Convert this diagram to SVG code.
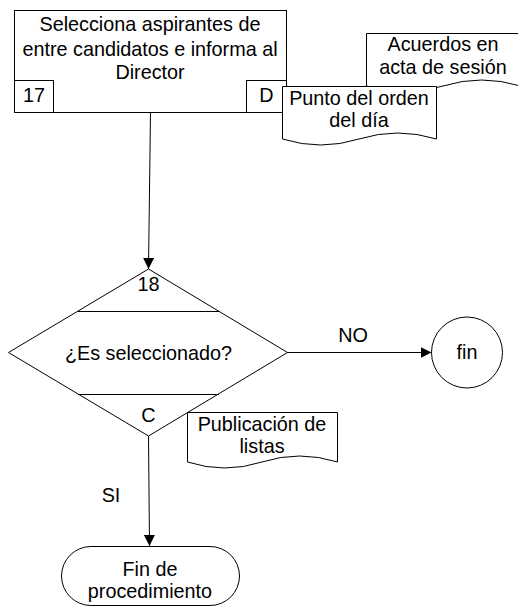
<svg xmlns="http://www.w3.org/2000/svg" width="518" height="616" viewBox="0 0 518 616">
<defs>
<style>
.s{fill:#fff;stroke:#000;stroke-width:1}
.l{fill:none;stroke:#000;stroke-width:1}
.t{font-family:"Liberation Sans",Arial,sans-serif;font-size:19.8px;fill:#000;text-anchor:middle}
</style>
<marker id="ah" viewBox="0 0 10 10" refX="10" refY="5" markerWidth="11" markerHeight="11" markerUnits="userSpaceOnUse" orient="auto">
<path d="M0,0 L10,5 L0,10 Z" fill="#000"/>
</marker>
</defs>
<rect width="518" height="616" fill="#fff"/>
<g id="connectors">
<line class="l" x1="150.5" y1="112" x2="148.5" y2="269" marker-end="url(#ah)"/>
<line class="l" x1="287" y1="352.5" x2="431.5" y2="352.5" marker-end="url(#ah)"/>
<line class="l" x1="148.5" y1="436" x2="149.5" y2="546" marker-end="url(#ah)"/>
<text class="t" x="353" y="342">NO</text>
<text class="t" x="111" y="502">SI</text>
</g>
<g id="n17">
<rect class="s" x="14.5" y="10.5" width="272" height="102"/>
<text class="t" x="150" y="31">Selecciona aspirantes de</text>
<text class="t" x="150" y="55.5">entre candidatos e informa al</text>
<text class="t" x="150" y="79">Director</text>
<rect class="s" x="14.5" y="80.5" width="39" height="32"/>
<text class="t" x="34" y="102">17</text>
<rect class="s" x="246.5" y="80.5" width="40" height="32"/>
<text class="t" x="266.5" y="102">D</text>
</g>
<g id="doc-acuerdos">
<path class="s" d="M366.5,33.5 H520.5 V86 Q481.5,74 443,86 Q404.5,98 366.5,86 Z"/>
<text class="t" x="443" y="51">Acuerdos en</text>
<text class="t" x="443" y="74">acta de sesión</text>
</g>
<g id="doc-punto">
<path class="s" d="M282.5,86.5 H436.5 V139 Q397.5,127 359,139 Q320.5,151 282.5,139 Z"/>
<text class="t" x="359" y="105">Punto del orden</text>
<text class="t" x="359" y="127">del día</text>
</g>
<g id="n18">
<polygon class="s" points="148.5,269 287.5,352.5 148.5,436 8.5,352.5"/>
<line class="l" x1="78" y1="311.5" x2="219" y2="311.5"/>
<line class="l" x1="78" y1="394.5" x2="219" y2="394.5"/>
<text class="t" x="148.5" y="291">18</text>
<text class="t" x="148.5" y="360">¿Es seleccionado?</text>
<text class="t" x="148.5" y="422">C</text>
</g>
<g id="doc-publicacion">
<path class="s" d="M187.5,412.5 H337.5 V462 Q299.5,450 262,462 Q224.5,474 187.5,462 Z"/>
<text class="t" x="262" y="431">Publicación de</text>
<text class="t" x="262" y="453">listas</text>
</g>
<g id="fin">
<circle class="s" cx="467" cy="352.5" r="35.5"/>
<text class="t" x="467" y="359">fin</text>
</g>
<g id="fin-procedimiento">
<rect class="s" x="61.5" y="546.5" width="178" height="59" rx="29.5" ry="29.5"/>
<text class="t" x="150" y="576">Fin de</text>
<text class="t" x="150" y="598">procedimiento</text>
</g>
</svg>
